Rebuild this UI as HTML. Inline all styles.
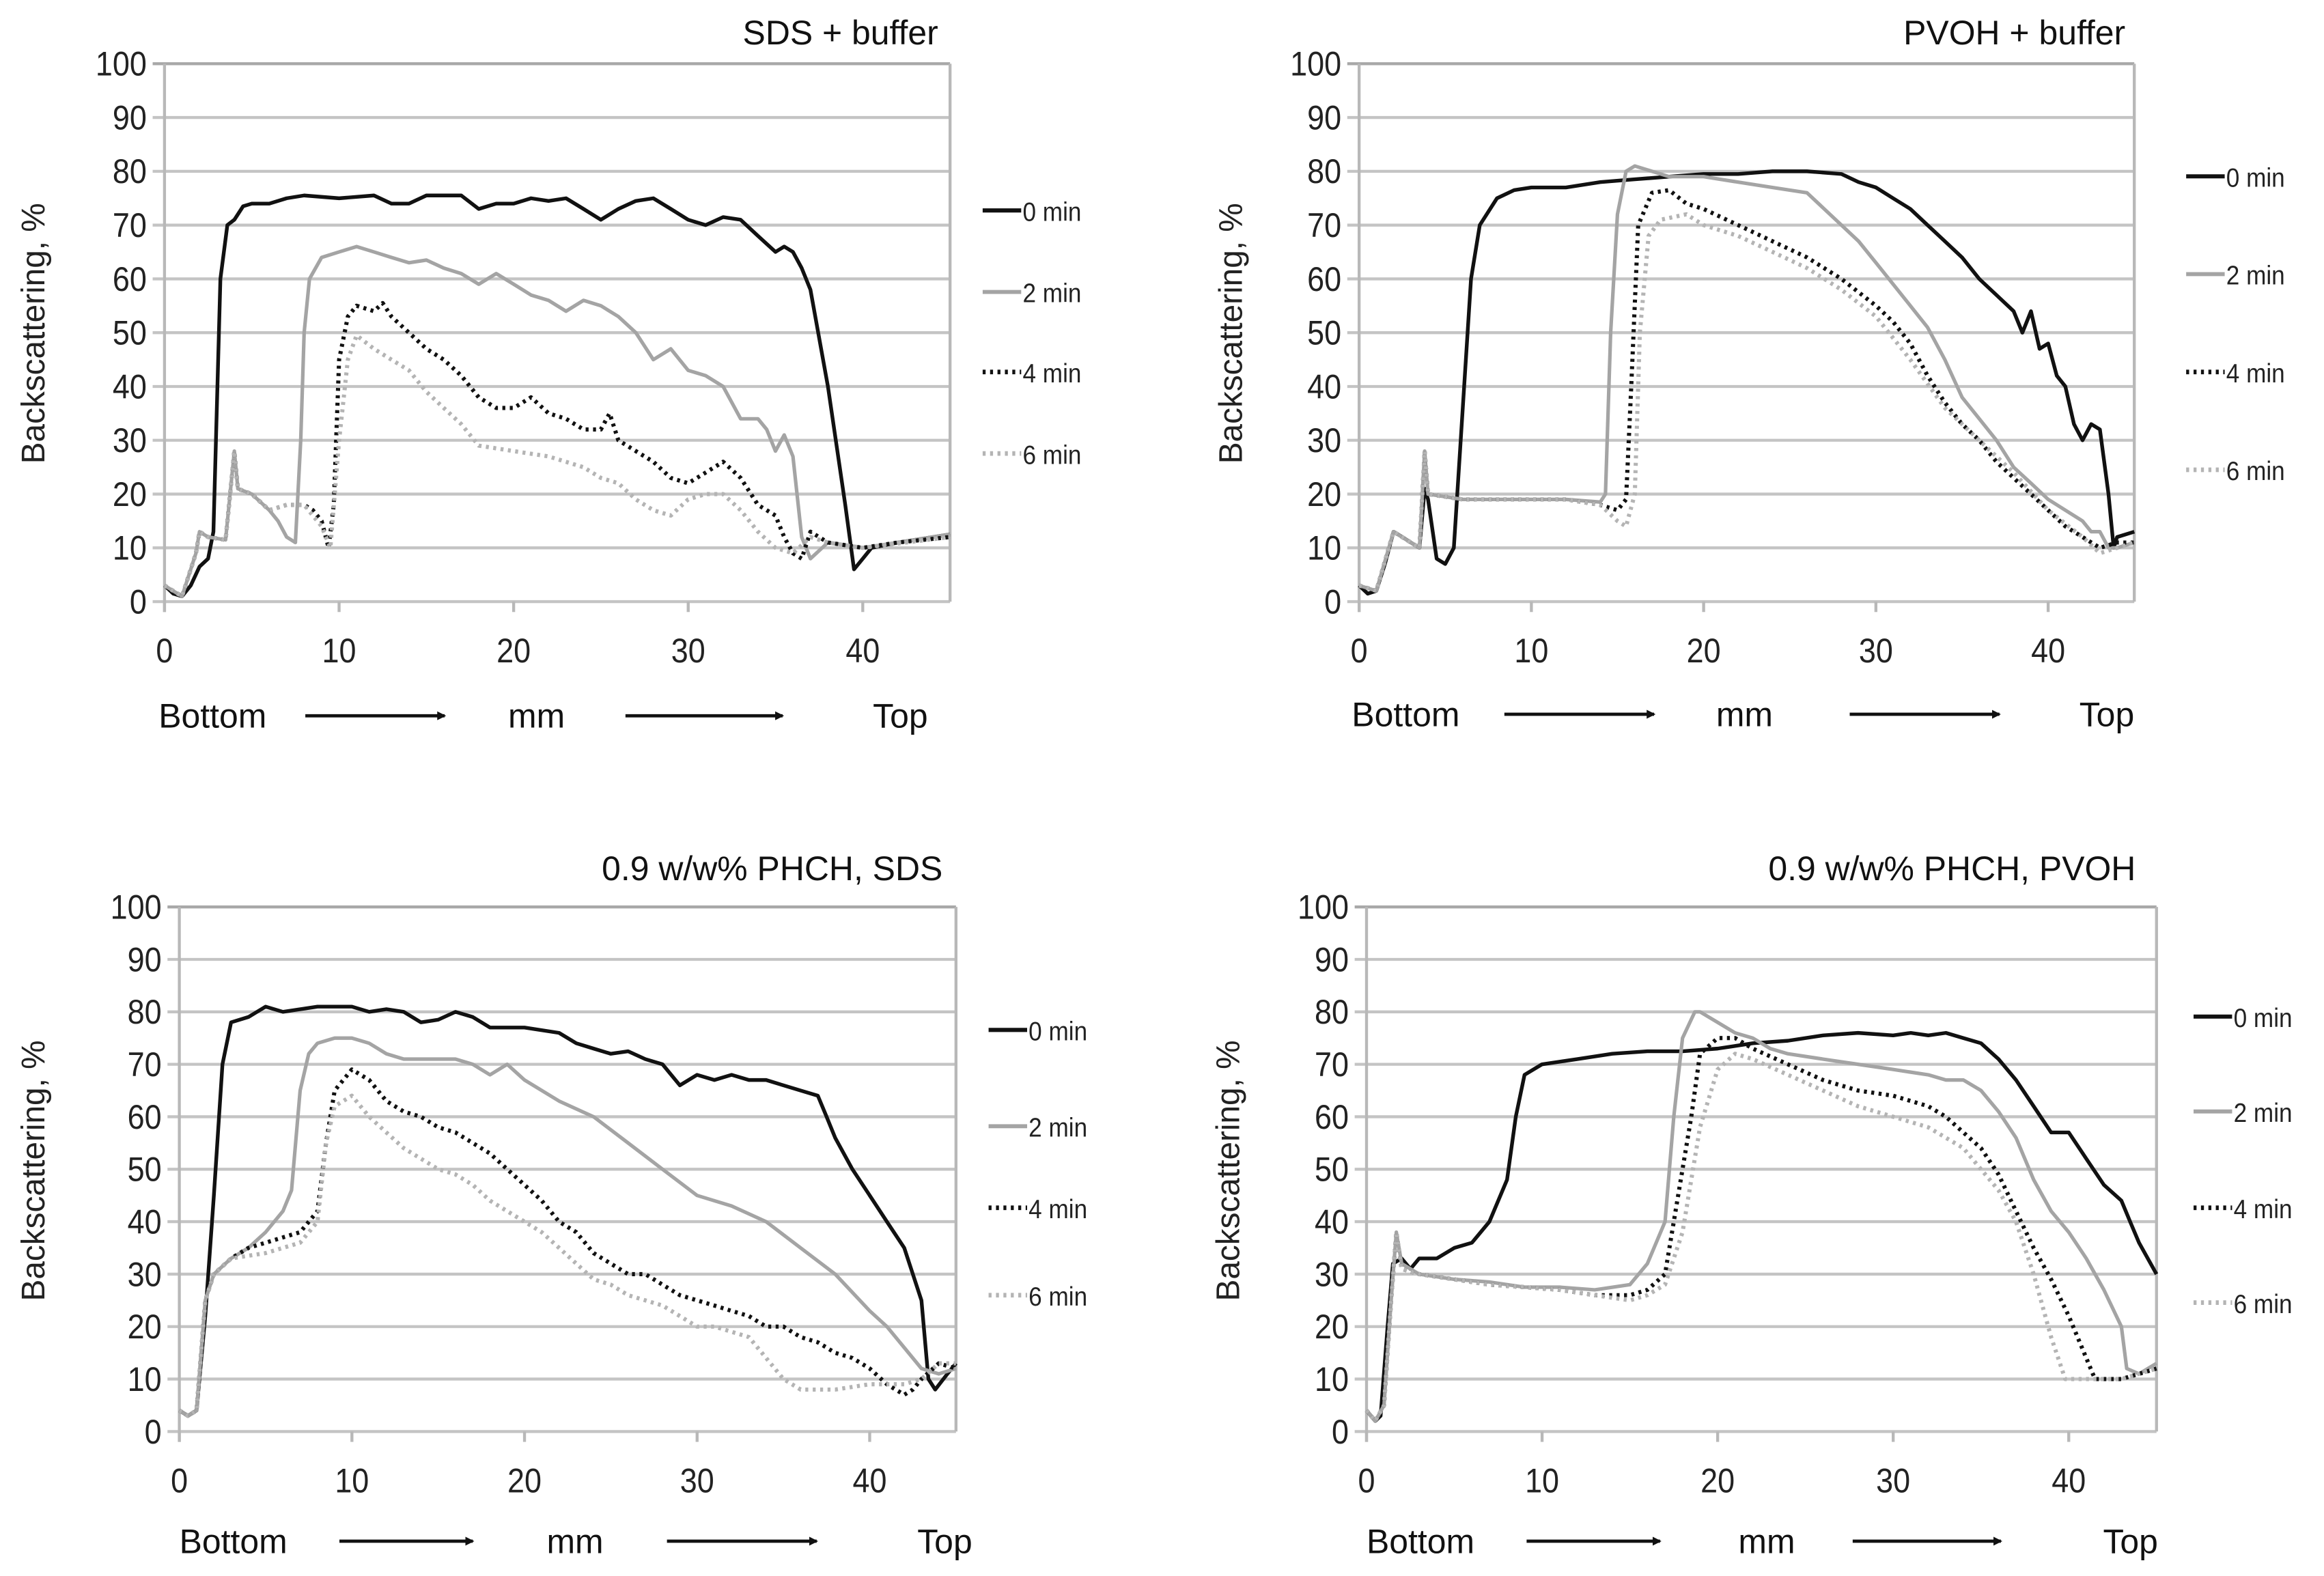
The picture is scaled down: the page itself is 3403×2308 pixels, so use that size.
<!DOCTYPE html>
<html><head><meta charset="utf-8">
<style>
html,body{margin:0;padding:0;background:#fff;}
svg{display:block;font-family:"Liberation Sans",Arial,sans-serif;}
</style></head>
<body>
<svg id="fig" width="3403" height="2308" viewBox="0 0 1568 1063.5" preserveAspectRatio="none" xmlns="http://www.w3.org/2000/svg"></svg>
<script>
const seriesLabels = ["0 min","2 min","4 min","6 min"];
const yTicks = [0,10,20,30,40,50,60,70,80,90,100];
const xTicks = [0,10,20,30,40];
const panelTitles = ["SDS + buffer","PVOH + buffer","0.9 w/w% PHCH, SDS","0.9 w/w% PHCH, PVOH"];

const tl0 = [[0,3],[0.5,1.5],[1,1],[1.5,3],[2,6.5],[2.5,8],[2.8,13],[3.2,60],[3.6,70],[4,71],[4.5,73.5],[5,74],[6,74],[7,75],[8,75.5],[10,75],[12,75.5],[13,74],[14,74],[15,75.5],[17,75.5],[18,73],[19,74],[20,74],[21,75],[22,74.5],[23,75],[24,73],[25,71],[26,73],[27,74.5],[28,75],[29,73],[30,71],[31,70],[32,71.5],[33,71],[34,68],[35,65],[35.5,66],[36,65],[36.5,62],[37,58],[38,40],[39,18],[39.5,6],[40,8],[40.5,10],[42,11],[45,12.5]];
const tl2 = [[0,3],[1,1],[1.8,9],[2,13],[2.5,12],[3.5,11.5],[4,28],[4.2,21],[5,20],[6,17],[6.5,15],[7,12],[7.5,11],[7.8,30],[8,50],[8.3,60],[9,64],[10,65],[11,66],[12,65],[13,64],[14,63],[15,63.5],[16,62],[17,61],[18,59],[19,61],[20,59],[21,57],[22,56],[23,54],[24,56],[25,55],[26,53],[27,50],[28,45],[29,47],[30,43],[31,42],[32,40],[33,34],[34,34],[34.5,32],[35,28],[35.5,31],[36,27],[36.5,12],[37,8],[38,11],[40,10],[42,11],[45,12.5]];
const tl4 = [[0,3],[1,1],[1.8,9],[2,13],[2.5,12],[3.5,11.5],[4,28],[4.2,21],[5,20],[6,17],[7,18],[8,18],[8.5,17],[9,15],[9.4,10],[9.7,18],[10,45],[10.5,53],[11,55],[12,54],[12.5,55.5],[13,53],[14,50],[15,47],[16,45],[17,42],[18,38],[19,36],[20,36],[21,38],[22,35],[23,34],[24,32],[25,32],[25.5,35],[26,30],[27,28],[28,26],[29,23],[30,22],[31,24],[32,26],[33,23],[34,18],[35,16],[35.5,12],[36,9],[36.5,8],[37,13],[38,11],[40,10],[42,11],[45,12]];
const tl6 = [[0,3],[1,1],[1.8,9],[2,13],[2.5,12],[3.5,11.5],[4,28],[4.2,21],[5,20],[6,17],[7,18],[8,18],[9,14],[9.5,10],[10,30],[10.5,45],[11,49.5],[12,47],[13,45],[14,43],[15,39],[16,36],[17,33],[18,29],[20,28],[22,27],[24,25],[25,23],[26,22],[27,19],[28,17],[29,16],[30,19],[31,20],[32,20],[33,17],[34,13],[35,10],[36,9],[37,12],[38,11],[40,10],[45,12]];

const tr0 = [[0,3],[0.5,1.5],[1,2],[1.5,7],[2,13],[2.5,12],[3,11],[3.5,10],[3.8,21],[4,19],[4.5,8],[5,7],[5.5,10],[6,35],[6.5,60],[7,70],[8,75],[9,76.5],[10,77],[12,77],[14,78],[16,78.5],[18,79],[20,79.5],[22,79.5],[24,80],[26,80],[28,79.5],[29,78],[30,77],[31,75],[32,73],[33,70],[34,67],[35,64],[36,60],[37,57],[38,54],[38.5,50],[39,54],[39.5,47],[40,48],[40.5,42],[41,40],[41.5,33],[42,30],[42.5,33],[43,32],[43.5,20],[43.8,10],[44,12],[45,13]];
const tr2 = [[0,3],[1,2],[2,13],[3.5,10],[3.8,28],[4,20],[6,19],[8,19],[10,19],[12,19],[14,18.5],[14.3,20],[14.6,50],[15,72],[15.5,80],[16,81],[17,80],[18,79],[20,79],[22,78],[24,77],[26,76],[27,73],[28,70],[29,67],[30,63],[31,59],[32,55],[33,51],[34,45],[35,38],[36,34],[37,30],[38,25],[39,22],[40,19],[41,17],[42,15],[42.5,13],[43,13],[43.5,10],[44,10],[45,11]];
const tr4 = [[0,3],[1,2],[2,13],[3.5,10],[3.8,28],[4,20],[6,19],[8,19],[10,19],[12,19],[14,18],[15,17],[15.5,19],[15.8,40],[16.2,70],[17,76],[18,76.5],[19,74],[20,73],[22,70],[24,67],[26,64],[28,60],[30,55],[31,52],[32,48],[33,42],[34,37],[35,33],[36,30],[37,26],[38,23],[39,20],[40,17],[41,14],[42,12],[43,10],[44,11],[45,11]];
const tr6 = [[0,3],[1,2],[2,13],[3.5,10],[3.8,28],[4,20],[6,19],[8,19],[10,19],[12,19],[14,18],[15,15],[15.5,14],[16,20],[16.3,50],[16.8,68],[17.5,71],[19,72],[20,70],[22,68],[24,65],[26,62],[28,58],[30,53],[32,45],[34,36],[36,30],[38,24],[40,17],[42,12],[43,9],[44,10],[45,11]];

const bl0 = [[0,4],[0.5,3],[1,4],[1.5,22],[2,45],[2.5,70],[3,78],[4,79],[5,81],[6,80],[8,81],[10,81],[11,80],[12,80.5],[13,80],[14,78],[15,78.5],[16,80],[17,79],[18,77],[20,77],[22,76],[23,74],[24,73],[25,72],[26,72.5],[27,71],[28,70],[29,66],[30,68],[31,67],[32,68],[33,67],[34,67],[35,66],[36,65],[37,64],[37.5,60],[38,56],[39,50],[40,45],[41,40],[42,35],[42.5,30],[43,25],[43.4,10],[43.8,8],[44.5,11],[45,13]];
const bl2 = [[0,4],[0.5,3],[1,4],[1.5,25],[2,30],[3,33],[4,35],[5,38],[6,42],[6.5,46],[7,65],[7.5,72],[8,74],[9,75],[10,75],[11,74],[12,72],[13,71],[14,71],[15,71],[16,71],[17,70],[18,68],[19,70],[20,67],[22,63],[24,60],[26,55],[28,50],[30,45],[32,43],[34,40],[36,35],[38,30],[40,23],[41,20],[42,16],[43,12],[44,11],[45,12]];
const bl4 = [[0,4],[0.5,3],[1,4],[1.5,25],[2,30],[3,33],[4,35],[5,36],[6,37],[7,38],[8,42],[8.5,55],[9,65],[10,69],[11,67],[12,63],[13,61],[14,60],[15,58],[16,57],[17,55],[18,53],[19,50],[20,47],[21,44],[22,40],[23,38],[24,34],[25,32],[26,30],[27,30],[28,28],[29,26],[30,25],[31,24],[32,23],[33,22],[34,20],[35,20],[36,18],[37,17],[38,15],[39,14],[40,12],[41,9],[42,7],[42.5,8],[43,10],[44,13],[45,12]];
const bl6 = [[0,4],[0.5,3],[1,4],[1.5,25],[2,30],[3,33],[5,34],[7,36],[8,40],[8.5,55],[9,62],[10,64],[11,60],[12,57],[13,54],[14,52],[15,50],[16,49],[17,47],[18,44],[19,42],[20,40],[21,38],[22,35],[23,32],[24,29],[25,28],[26,26],[27,25],[28,24],[29,22],[30,20],[31,20],[32,19],[33,18],[34,14],[35,10],[36,8],[38,8],[40,9],[42,9],[43,10],[44,13],[45,13]];

const br0 = [[0,4],[0.5,2],[0.8,3],[1.2,20],[1.5,32],[2,33],[2.5,31],[3,33],[4,33],[5,35],[6,36],[7,40],[8,48],[8.5,60],[9,68],[10,70],[12,71],[14,72],[16,72.5],[18,72.5],[20,73],[22,74],[24,74.5],[26,75.5],[28,76],[30,75.5],[31,76],[32,75.5],[33,76],[34,75],[35,74],[36,71],[37,67],[38,62],[39,57],[40,57],[41,52],[42,47],[43,44],[43.5,40],[44,36],[44.5,33],[45,30]];
const br2 = [[0,4],[0.5,2],[1,5],[1.4,25],[1.7,38],[2,32],[3,30],[5,29],[7,28.5],[9,27.5],[11,27.5],[13,27],[15,28],[16,32],[17,40],[17.5,60],[18,75],[18.7,80],[19,80],[20,78],[21,76],[22,75],[23,73],[24,72],[26,71],[28,70],[30,69],[32,68],[33,67],[34,67],[35,65],[36,61],[37,56],[38,48],[39,42],[40,38],[41,33],[42,27],[43,20],[43.3,12],[44,11],[45,13]];
const br4 = [[0,4],[0.5,2],[1,5],[1.4,25],[1.7,38],[2,31],[3,30],[5,29],[7,28],[9,27.5],[11,27],[13,26],[15,26],[16,27],[17,30],[17.5,40],[18.5,60],[19,72],[20,75],[21,75],[22,73],[24,70],[26,67],[28,65],[30,64],[32,62],[33,60],[34,57],[35,54],[36,49],[37,42],[38,35],[39,29],[40,22],[41,14],[41.5,10],[43,10],[44,11],[45,12]];
const br6 = [[0,4],[0.5,2],[1,5],[1.4,25],[1.7,38],[2,31],[3,30],[5,29],[7,28],[9,27.5],[11,27],[13,26],[15,25],[16,26],[17,28],[18,38],[19,58],[20,69],[21,72],[22,71],[24,68],[26,65],[28,62],[30,60],[32,58],[34,54],[36,46],[37,40],[38,30],[39,18],[39.8,10],[41,10],[43,10],[45,12]];

const NS = "http://www.w3.org/2000/svg";
const svg = document.getElementById('fig');
function mk(tag, attrs, parent){const e=document.createElementNS(NS,tag);for(const k in attrs)e.setAttribute(k,attrs[k]);(parent||svg).appendChild(e);return e;}

const styles = [
 {stroke:"#111",w:2.5,dash:null},
 {stroke:"#a4a4a4",w:2.4,dash:null},
 {stroke:"#111",w:2.8,dash:"2 3"},
 {stroke:"#b4b4b4",w:2.8,dash:"2 3"}
];

const panels = [
 {L:111,R:641,T:43,B:406,data:[tl0,tl2,tl4,tl6],leg:{lx:663,ys:[142,197,251,306]},yt:{x:22,y:225},xl:{y:483,bottom:107,a1:[206,300],mm:362,a2:[422,528],top:626},title:{x:633,y:30}},
 {L:917,R:1440,T:43,B:406,data:[tr0,tr2,tr4,tr6],leg:{lx:1475,ys:[119,185,251,317]},yt:{x:830,y:225},xl:{y:482,bottom:912,a1:[1015,1116],mm:1177,a2:[1248,1349],top:1440},title:{x:1434,y:30}},
 {L:121,R:645,T:612,B:966,data:[bl0,bl2,bl4,bl6],leg:{lx:667,ys:[695,760,815,874]},yt:{x:22,y:790},xl:{y:1040,bottom:121,a1:[229,319],mm:388,a2:[450,551],top:656},title:{x:636,y:594}},
 {L:922,R:1455,T:612,B:966,data:[br0,br2,br4,br6],leg:{lx:1480,ys:[686,750,815,879]},yt:{x:828,y:790},xl:{y:1040,bottom:922,a1:[1030,1120],mm:1192,a2:[1250,1350],top:1456},title:{x:1441,y:594}}
];

const defs = mk('defs',{});
const mkr = mk('marker',{id:'arr',markerWidth:6,markerHeight:6,refX:5,refY:3,orient:'auto',markerUnits:'userSpaceOnUse'},defs);
mk('path',{d:'M0,0 L6,3 L0,6 Z',fill:'#111'},mkr);

panels.forEach((p,pi)=>{
  const g = mk('g',{});
  
  
  const xs = v => p.L + (v/45)*(p.R-p.L);
  const ys = v => p.B - (v/100)*(p.B-p.T);
  yTicks.forEach(t=>{
    const l = mk('line',{x1:p.L-8,x2:p.R,y1:ys(t),y2:ys(t),stroke:t===100?'#a8a8a8':'#c4c4c4','stroke-width':2},g);
    
    
    const tx = mk('text',{x:p.L-12,y:ys(t)+8,'text-anchor':'end','font-size':23,fill:'#222',transform:`translate(${(p.L-12)*0.1},0) scale(0.9,1)`},g);
    tx.textContent = t;
    
    
  });
  const ax = mk('line',{x1:p.L,x2:p.L,y1:p.T,y2:p.B+7,stroke:'#b8b8b8','stroke-width':2},g);
  
  
  const rx = mk('line',{x1:p.R,x2:p.R,y1:p.T,y2:p.B,stroke:'#b8b8b8','stroke-width':2},g);
  
  
  xTicks.forEach(t=>{
    const tk = mk('line',{x1:xs(t),x2:xs(t),y1:p.B,y2:p.B+7,stroke:'#b8b8b8','stroke-width':2},g);
    
    
    const tx = mk('text',{x:xs(t),y:p.B+41,'text-anchor':'middle','font-size':23,fill:'#222',transform:`translate(${xs(t)*0.1},0) scale(0.9,1)`},g);
    tx.textContent = t;
    
    
  });
  p.data.forEach((d,si)=>{
    const st = styles[si];
    const pts = d.map(q=>xs(q[0]).toFixed(1)+','+ys(q[1]).toFixed(1)).join(' ');
    const a = {points:pts,fill:'none',stroke:st.stroke,'stroke-width':st.w,'stroke-linejoin':'round'};
    if(st.dash) a['stroke-dasharray']=st.dash;
    const pl = mk('polyline',a,g);
    
    
    const ly = p.leg.ys[si];
    const la = {x1:p.leg.lx,x2:p.leg.lx+26,y1:ly,y2:ly,stroke:st.stroke,'stroke-width':st.w+0.3};
    if(st.dash) la['stroke-dasharray']=st.dash;
    const ll = mk('line',la,g);
    
    
    const lt = mk('text',{x:p.leg.lx+27,y:ly+7,'font-size':18,fill:'#222',transform:`translate(${(p.leg.lx+27)*0.1},0) scale(0.9,1)`},g);
    lt.textContent = seriesLabels[si];
    
    
  });
  const yt = mk('text',{x:0,y:0,'text-anchor':'middle','font-size':22,fill:'#222',transform:`translate(${p.yt.x+8},${p.yt.y}) rotate(-90)`},g);
  yt.textContent = 'Backscattering, %';
  
  
  const tt = mk('text',{x:p.title.x,y:p.title.y,'text-anchor':'end','font-size':23,fill:'#111'},g);
  tt.textContent = panelTitles[pi];
  
  
  const by = p.xl.y+8;
  const b = mk('text',{x:p.xl.bottom,y:by,'font-size':23,fill:'#111'},g);
  b.textContent = 'Bottom';
  
  
  const m = mk('text',{x:p.xl.mm,y:by,'text-anchor':'middle','font-size':23,fill:'#111'},g);
  m.textContent = 'mm';
  
  
  const tp = mk('text',{x:p.xl.top,y:by,'text-anchor':'end','font-size':23,fill:'#111'},g);
  tp.textContent = 'Top';
  
  
  [p.xl.a1,p.xl.a2].forEach(a=>{
    const ar = mk('line',{x1:a[0],x2:a[1],y1:p.xl.y,y2:p.xl.y,stroke:'#111','stroke-width':2.2,'marker-end':'url(#arr)'},g);
    
    
  });
});
</script>
</body></html>
